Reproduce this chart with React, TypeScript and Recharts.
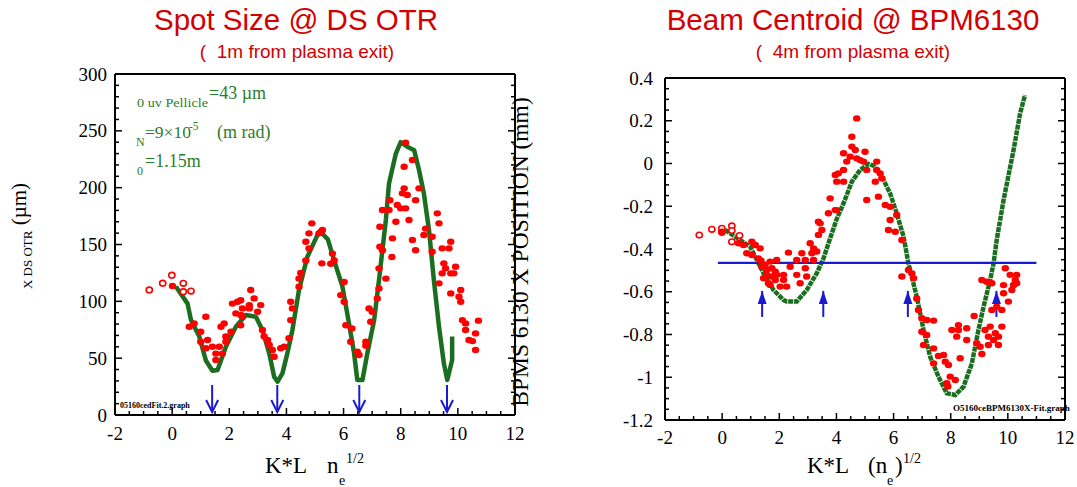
import React from 'react';
import { ComposedChart, XAxis, YAxis, Line, Scatter } from 'recharts';

const SERIF = "'Liberation Serif', 'Times New Roman', serif";
const SANS = "'Liberation Sans', Arial, sans-serif";
const RED = '#ff0000';
const TITLE_RED = '#d40000';
const GREEN = '#1b6e1f';
const TEXT_GREEN = '#2a7d2a';
const BLUE = '#1a1ad0';

// ---------------- Left panel: Spot Size @ DS OTR ----------------
const spotXMajor = [-2, 0, 2, 4, 6, 8, 10, 12];
const spotYMajor = [0, 50, 100, 150, 200, 250, 300];

const spotFitX = [0.13, 0.54, 0.66, 0.95, 1.18, 1.41, 1.59, 1.88, 2.23, 2.58, 2.93, 3.16, 3.4, 3.57, 3.69, 3.86, 4.03, 4.21, 4.44, 4.73, 5.08, 5.2, 5.45, 5.67, 5.96, 6.19, 6.37, 6.48, 6.66, 6.83, 7.07, 7.24, 7.48, 7.59, 7.83, 8.0, 8.23, 8.47, 8.64, 8.81, 8.99, 9.16, 9.34, 9.51, 9.63, 9.8, 9.8];
const spotFitY = [113, 98, 83.5, 69, 48, 39, 39.6, 60, 77.6, 88, 86.5, 74.8, 54, 33.7, 29.3, 36.6, 54, 74.8, 110, 139, 158, 161, 154.5, 136, 113, 80.6, 54, 30.8, 30.8, 54, 83.5, 118.7, 171.5, 203.7, 230, 240, 236, 233, 215.5, 195, 162.7, 118.7, 77.7, 45.4, 30.8, 48.4, 69];

const spotPtsX = [0.01, 0.6, 0.77, 1.0, 1.0, 1.18, 1.24, 1.18, 1.41, 1.53, 1.65, 1.53, 1.76, 1.71, 1.82, 1.88, 1.88, 2.06, 2.11, 2.29, 2.4, 2.23, 2.46, 2.4, 2.75, 2.87, 3.1, 2.7, 2.7, 2.99, 2.46, 2.4, 3.16, 3.22, 3.34, 3.4, 3.51, 3.57, 3.8, 3.92, 4.09, 4.15, 4.21, 4.15, 4.44, 4.44, 4.5, 4.68, 4.79, 4.68, 4.79, 4.89, 5.14, 5.26, 5.24, 5.2, 5.61, 5.67, 5.55, 6.02, 5.9, 6.02, 6.08, 6.29, 6.25, 6.48, 6.54, 6.78, 6.78, 6.95, 6.89, 7.0, 7.18, 7.24, 7.24, 7.48, 7.36, 7.27, 7.69, 7.71, 7.27, 7.36, 7.59, 7.62, 7.83, 7.88, 8.0, 8.17, 8.06, 8.12, 8.23, 8.29, 8.52, 8.64, 8.12, 8.41, 8.17, 8.41, 8.52, 8.87, 8.81, 9.1, 9.1, 9.28, 9.34, 9.45, 9.75, 9.69, 9.51, 9.57, 9.45, 9.75, 9.92, 9.86, 9.34, 9.75, 10.1, 10.04, 10.1, 10.16, 10.27, 10.27, 10.62, 10.39, 10.51, 10.62, 10.72];
const spotPtsY = [113.5, 77.7, 80.6, 73.3, 64.5, 86.5, 66, 58.7, 60, 54, 60, 48.4, 54, 77.7, 80.6, 69, 64.5, 73.3, 98, 99.6, 101, 89.4, 93.8, 88, 110, 102.6, 96.7, 96.7, 93.8, 90.9, 86.5, 79, 74.8, 69, 66, 61.6, 57.2, 51.3, 58.7, 60, 67.5, 83.5, 93.8, 99.6, 112.8, 120, 125, 136, 146.6, 152.4, 159.8, 168.6, 159.8, 162.7, 133.4, 161, 142, 136, 133, 117, 105.5, 99.6, 79, 76.2, 64.5, 55.7, 52.8, 64.5, 61, 82, 93.8, 90.9, 102.6, 111.4, 129, 120, 145, 148, 139, 155.4, 165.6, 180.3, 180.3, 189, 170, 184.7, 181.8, 181.8, 195, 199.4, 193.5, 171.5, 189, 199.4, 218.4, 224.3, 239.5, 154, 145, 164, 158.3, 156.8, 143.6, 177.4, 168.6, 146.6, 152.4, 146.6, 133.4, 129, 124.6, 124.6, 130.4, 124.6, 115.8, 107, 110, 104, 99.6, 83.5, 80.6, 74.8, 71.8, 66, 65, 57.2, 83];

const spotOpenX = [-0.8, -0.33, -0.01, 0.39, 0.39, 0.66];
const spotOpenY = [110, 116, 123, 115.8, 108.5, 109];

const spotArrowX = [1.4, 3.68, 6.55, 9.62];
const spotArrowTop = 26.4;
const spotArrowTip = 2.6;

// ---------------- Right panel: Beam Centroid @ BPM6130 ----------------
const bpmXMajor = [-2, 0, 2, 4, 6, 8, 10, 12];
const bpmYMajor = [-1.2, -1, -0.8, -0.6, -0.4, -0.2, 0, 0.2, 0.4];

const bpmFitX = [0.1, 0.98, 1.45, 1.8, 2.15, 2.26, 2.61, 2.96, 3.31, 3.55, 3.78, 4.01, 4.25, 4.54, 4.83, 5.12, 5.3, 5.59, 5.88, 6.11, 6.35, 6.52, 6.81, 7.05, 7.28, 7.57, 7.86, 8.16, 8.45, 8.74, 8.97, 9.15, 9.38, 9.5, 9.61, 9.85, 10.2, 10.43, 10.6];
const bpmFitY = [-0.311, -0.389, -0.514, -0.592, -0.639, -0.646, -0.646, -0.592, -0.514, -0.443, -0.35, -0.26, -0.186, -0.085, -0.03, -0.002, -0.01, -0.062, -0.14, -0.233, -0.342, -0.467, -0.623, -0.779, -0.904, -0.997, -1.075, -1.083, -1.044, -0.935, -0.779, -0.67, -0.545, -0.467, -0.358, -0.171, 0.063, 0.235, 0.32];

const bpmPtsX = [-0.01, 0.57, 0.75, 1.04, 1.16, 1.33, 0.86, 1.04, 1.27, 1.36, 1.5, 1.68, 1.91, 1.56, 1.74, 1.86, 1.56, 1.74, 1.62, 1.86, 1.91, 2.15, 2.03, 2.26, 2.15, 2.32, 2.38, 2.61, 2.61, 2.73, 2.79, 2.91, 2.91, 2.96, 3.08, 3.14, 3.2, 3.31, 3.2, 3.37, 3.49, 3.43, 3.72, 3.96, 1.39, 1.45, 1.68, 3.78, 3.37, 4.01, 3.96, 4.01, 4.25, 4.07, 4.25, 4.25, 4.36, 4.48, 4.54, 4.54, 4.66, 4.71, 4.71, 4.83, 5.0, 4.95, 5.06, 5.41, 5.41, 5.53, 5.36, 5.59, 5.06, 5.47, 5.71, 5.88, 6.11, 5.88, 5.82, 6.06, 6.29, 6.29, 6.52, 6.64, 6.7, 6.81, 6.87, 6.99, 7.16, 7.4, 6.99, 7.16, 7.05, 7.4, 7.57, 7.75, 7.81, 7.4, 7.92, 7.98, 7.86, 7.9, 8.16, 8.33, 8.04, 8.27, 8.27, 8.56, 8.21, 8.56, 8.91, 9.03, 9.09, 8.82, 9.2, 9.32, 9.38, 9.56, 9.5, 9.67, 9.79, 9.67, 9.32, 9.44, 9.61, 9.79, 10.02, 9.85, 10.14, 9.85, 10.2, 10.31, 10.31, 10.26, 9.91, 10.08, 9.09, 9.26, 9.44];
const bpmPtsY = [-0.319, -0.373, -0.381, -0.366, -0.381, -0.397, -0.42, -0.428, -0.444, -0.455, -0.475, -0.459, -0.451, -0.498, -0.49, -0.506, -0.521, -0.529, -0.56, -0.545, -0.521, -0.521, -0.576, -0.576, -0.545, -0.417, -0.483, -0.451, -0.521, -0.56, -0.42, -0.49, -0.451, -0.529, -0.373, -0.42, -0.397, -0.412, -0.451, -0.334, -0.311, -0.28, -0.233, -0.218, -0.483, -0.537, -0.568, -0.163, -0.272, -0.218, -0.054, -0.085, -0.03, -0.046, -0.085, 0.048, 0.009, 0.032, 0.125, 0.079, 0.063, 0.024, 0.211, 0.016, 0.055, 0.009, -0.03, 0.009, -0.03, -0.046, -0.085, -0.069, -0.171, -0.155, -0.194, -0.202, -0.241, -0.264, -0.311, -0.319, -0.358, -0.529, -0.498, -0.514, -0.537, -0.631, -0.685, -0.724, -0.732, -0.735, -0.787, -0.802, -0.849, -0.865, -0.9, -0.896, -0.927, -0.935, -0.943, -0.997, -1.028, -1.043, -1.013, -0.911, -0.779, -0.756, -0.779, -0.771, -0.81, -0.826, -0.841, -0.857, -0.891, -0.713, -0.779, -0.81, -0.763, -0.794, -0.826, -0.81, -0.763, -0.849, -0.849, -0.685, -0.67, -0.685, -0.646, -0.607, -0.592, -0.569, -0.568, -0.56, -0.521, -0.545, -0.49, -0.521, -0.545, -0.553, -0.56];

const bpmOpenX = [-0.8, -0.36, -0.01, -0.01, 0.34, 0.34, 0.61, 0.34];
const bpmOpenY = [-0.335, -0.308, -0.303, -0.322, -0.292, -0.314, -0.337, -0.366];

const bpmRefLevel = -0.465;
const bpmRefX = [-0.15, 11.0];

const bpmArrowX = [1.4, 3.54, 6.5, 9.6];
const bpmArrowBase = -0.718;
const bpmArrowTip = -0.596;

// ---------------- helpers ----------------
const zip = (xs: number[], ys: number[]) => xs.map((x, i) => ({ x, y: ys[i] }));
const gridValues = (lo: number, hi: number, step: number) => {
  const out: number[] = [];
  const n = Math.round((hi - lo) / step);
  for (let i = 0; i <= n; i++) out.push(Math.round((lo + i * step) * 10000) / 10000);
  return out;
};

const AXIS_LINE = { stroke: '#000', strokeWidth: 2 };

function makeTick(side: string, majors: number[], labelOffset: number | null) {
  return (props: any) => {
    const { x, y, payload } = props;
    const v = payload.value;
    const major = majors.some((m) => Math.abs(m - v) < 1e-6);
    const len = major ? 7 : 4;
    let x2 = x;
    let y2 = y;
    if (side === 'bottom') y2 = y - len;
    if (side === 'top') y2 = y + len;
    if (side === 'left') x2 = x + len;
    if (side === 'right') x2 = x - len;
    return (
      <g>
        <line x1={x} y1={y} x2={x2} y2={y2} stroke="#000" strokeWidth={1.5} />
        {major && labelOffset !== null && side === 'bottom' && (
          <text x={x} y={y + labelOffset} textAnchor="middle" fontSize={19} fontFamily={SERIF} fill="#000">
            {String(v)}
          </text>
        )}
        {major && labelOffset !== null && side === 'left' && (
          <text x={x - labelOffset} y={y} dy="0.35em" textAnchor="end" fontSize={19} fontFamily={SERIF} fill="#000">
            {String(v)}
          </text>
        )}
      </g>
    );
  };
}

const Dot = (p: any) => <ellipse cx={p.cx} cy={p.cy} rx={3.7} ry={3.2} fill={RED} />;
const Ring = (p: any) => (
  <ellipse cx={p.cx} cy={p.cy} rx={3.1} ry={2.8} fill="#fff" stroke={RED} strokeWidth={1.6} />
);
const DownHead = (p: any) => (
  <path d={`M ${p.cx - 6} ${p.cy - 12} L ${p.cx} ${p.cy} L ${p.cx + 6} ${p.cy - 12}`} stroke={BLUE} strokeWidth={2} fill="none" />
);
const UpHead = (p: any) => (
  <polygon points={`${p.cx},${p.cy} ${p.cx - 4.5},${p.cy + 13} ${p.cx + 4.5},${p.cy + 13}`} fill={BLUE} />
);

function frameAxes(xDomain: number[], yDomain: number[], xMajor: number[], yMajor: number[], xMinor: number[], yMinor: number[], xLabelOff: number, yLabelGap: number) {
  return [
    <XAxis key="b" xAxisId="b" dataKey="x" type="number" domain={xDomain} allowDataOverflow ticks={xMinor} interval={0}
      orientation="bottom" height={30} tickSize={0} tickMargin={0} tickLine={false} axisLine={AXIS_LINE}
      tick={makeTick('bottom', xMajor, xLabelOff)} />,
    <XAxis key="t" xAxisId="t" type="number" domain={xDomain} allowDataOverflow ticks={xMinor} interval={0}
      orientation="top" mirror height={1} tickSize={0} tickMargin={0} tickLine={false} axisLine={AXIS_LINE}
      tick={makeTick('top', xMajor, null)} />,
    <YAxis key="l" yAxisId="l" dataKey="y" type="number" domain={yDomain} allowDataOverflow ticks={yMinor} interval={0}
      orientation="left" width={45} tickSize={0} tickMargin={0} tickLine={false} axisLine={AXIS_LINE}
      tick={makeTick('left', yMajor, yLabelGap)} />,
    <YAxis key="r" yAxisId="r" type="number" domain={yDomain} allowDataOverflow ticks={yMinor} interval={0}
      orientation="right" mirror width={1} tickSize={0} tickMargin={0} tickLine={false} axisLine={AXIS_LINE}
      tick={makeTick('right', yMajor, null)} />,
  ];
}

const spotFit = zip(spotFitX, spotFitY);
const spotPts = zip(spotPtsX, spotPtsY);
const spotOpen = zip(spotOpenX, spotOpenY);
const bpmFit = zip(bpmFitX, bpmFitY);
const bpmPts = zip(bpmPtsX, bpmPtsY);
const bpmOpen = zip(bpmOpenX, bpmOpenY);
const bpmRef = bpmRefX.map((x) => ({ x, y: bpmRefLevel }));

function SpotChart() {
  return (
    <ComposedChart width={540} height={487} margin={{ top: 74, right: 25, bottom: 42, left: 70 }}>
      {frameAxes([-2, 12], [0, 300], spotXMajor, spotYMajor, gridValues(-2, 12, 0.5), gridValues(0, 300, 10), 25, 8)}
      <Line xAxisId="b" yAxisId="l" data={spotFit} dataKey="y" stroke={GREEN} strokeWidth={4.5} strokeLinejoin="round"
        dot={false} activeDot={false} isAnimationActive={false} />
      <Scatter xAxisId="b" yAxisId="l" data={spotOpen} shape={Ring} isAnimationActive={false} />
      <Scatter xAxisId="b" yAxisId="l" data={spotPts} shape={Dot} isAnimationActive={false} />
      {spotArrowX.map((x, i) => (
        <Line key={`sa${i}`} xAxisId="b" yAxisId="l" data={[{ x, y: spotArrowTop }, { x, y: spotArrowTip }]} dataKey="y"
          stroke={BLUE} strokeWidth={2} dot={false} activeDot={false} isAnimationActive={false} />
      ))}
      <Scatter xAxisId="b" yAxisId="l" data={spotArrowX.map((x) => ({ x, y: spotArrowTip }))} shape={DownHead} isAnimationActive={false} />
    </ComposedChart>
  );
}

function BpmChart() {
  return (
    <ComposedChart width={537} height={487} margin={{ top: 78, right: 12, bottom: 37, left: 80 }}>
      {frameAxes([-2, 12], [-1.2, 0.4], bpmXMajor, bpmYMajor, gridValues(-2, 12, 0.5), gridValues(-1.2, 0.4, 0.05), 24, 12)}
      <Line xAxisId="b" yAxisId="l" data={bpmFit} dataKey="y" stroke={GREEN} strokeWidth={4.5} strokeDasharray="5 0.8"
        dot={false} activeDot={false} isAnimationActive={false} />
      <Scatter xAxisId="b" yAxisId="l" data={bpmOpen} shape={Ring} isAnimationActive={false} />
      <Scatter xAxisId="b" yAxisId="l" data={bpmPts} shape={Dot} isAnimationActive={false} />
      <Line xAxisId="b" yAxisId="l" data={bpmRef} dataKey="y" stroke={BLUE} strokeWidth={2.2}
        dot={false} activeDot={false} isAnimationActive={false} />
      {bpmArrowX.map((x, i) => (
        <Line key={`ba${i}`} xAxisId="b" yAxisId="l" data={[{ x, y: bpmArrowBase }, { x, y: bpmArrowTip }]} dataKey="y"
          stroke={BLUE} strokeWidth={2} dot={false} activeDot={false} isAnimationActive={false} />
      ))}
      <Scatter xAxisId="b" yAxisId="l" data={bpmArrowX.map((x) => ({ x, y: bpmArrowTip }))} shape={UpHead} isAnimationActive={false} />
    </ComposedChart>
  );
}

function Overlay() {
  return (
    <svg width={1077} height={487} style={{ position: 'absolute', left: 0, top: 0, pointerEvents: 'none' }}>
      {/* titles */}
      <text x={296} y={30} textAnchor="middle" fontSize={29.5} fontFamily={SANS} fill={TITLE_RED}>Spot Size @ DS OTR</text>
      <text x={297} y={58} textAnchor="middle" fontSize={19} fontFamily={SANS} fill={TITLE_RED} style={{ whiteSpace: 'pre' }}>{'(  1m from plasma exit)'}</text>
      <text x={853} y={30} textAnchor="middle" fontSize={29.5} fontFamily={SANS} fill={TITLE_RED}>Beam Centroid @ BPM6130</text>
      <text x={853} y={58} textAnchor="middle" fontSize={19} fontFamily={SANS} fill={TITLE_RED} style={{ whiteSpace: 'pre' }}>{'(  4m from plasma exit)'}</text>

      {/* annotations */}
      <g fontFamily={SERIF} fill={TEXT_GREEN}>
        <text x={137} y={107} fontSize={12.5} textLength={71} lengthAdjust="spacingAndGlyphs">0 uv Pellicle</text>
        <text x={209} y={99} fontSize={18}>=43 µm</text>
        <text x={136} y={146} fontSize={12}>N</text>
        <text x={145} y={138} fontSize={17.5}>=9×10</text>
        <text x={189} y={130} fontSize={11.5}>-5</text>
        <text x={217} y={138} fontSize={18}>(m rad)</text>
        <text x={137} y={175} fontSize={12}>0</text>
        <text x={145} y={167} fontSize={18}>=1.15m</text>
      </g>

      {/* file tags */}
      <text x={120} y={408} fontSize={8} fontWeight="bold" fontFamily={SERIF} fill="#000">05160cedFit.2.graph</text>
      <text x={953} y={411} fontSize={9} fontWeight="bold" fontFamily={SERIF} fill="#000">O5160ceBPM6130X-Fit.graph</text>

      {/* x-axis titles */}
      <g fontFamily={SERIF} fill="#000">
        <text x={265} y={473} fontSize={23}>K*L</text>
        <text x={327} y={473} fontSize={23}>n</text>
        <text x={339} y={485} fontSize={14}>e</text>
        <text x={346} y={463} fontSize={14}>1/2</text>

        <text x={807} y={473} fontSize={23}>K*L</text>
        <text x={868} y={473} fontSize={23}>(n</text>
        <text x={887} y={485} fontSize={14}>e</text>
        <text x={895} y={473} fontSize={23}>)</text>
        <text x={903} y={463} fontSize={14}>1/2</text>
      </g>

      {/* y-axis titles */}
      <text transform="translate(26,236) rotate(-90)" textAnchor="middle" fontFamily={SERIF} fill="#000" fontSize={21} style={{ whiteSpace: 'pre' }}>
        <tspan fontSize={13} dy={6}>X DS OTR</tspan>
        <tspan dy={-6}>{' (µm)'}</tspan>
      </text>
      <text transform="translate(528,252) rotate(-90)" textAnchor="middle" fontFamily={SERIF} fill="#000" fontSize={23.5}>
        BPMS 6130 X POSITION (mm)
      </text>
    </svg>
  );
}

export default function App() {
  return (
    <div style={{ position: 'absolute', left: 0, top: 0, width: 1077, height: 487, background: '#fff', overflow: 'hidden' }}>
      <div style={{ position: 'absolute', left: 0, top: 0 }}>
        <SpotChart />
      </div>
      <div style={{ position: 'absolute', left: 540, top: 0 }}>
        <BpmChart />
      </div>
      <Overlay />
    </div>
  );
}
